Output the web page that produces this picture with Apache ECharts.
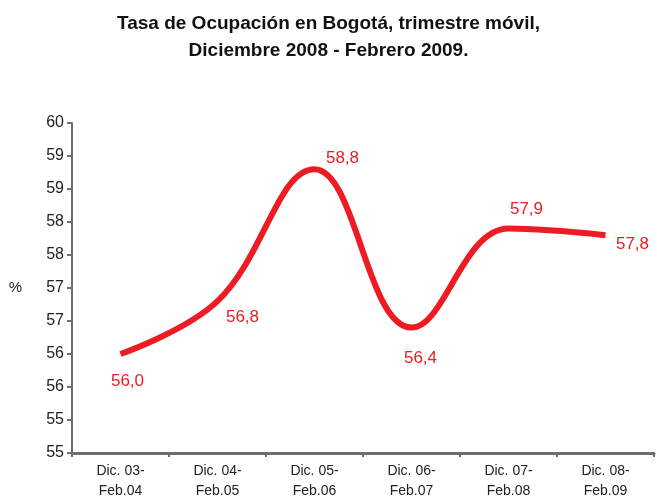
<!DOCTYPE html>
<html>
<head>
    <meta charset="utf-8">
    <title>Tasa de Ocupación en Bogotá</title>
    <script src="https://cdn.jsdelivr.net/npm/echarts@6/dist/echarts.min.js"></script>
    <style>
        html, body { margin: 0; padding: 0; background: #fff; }
        #chart { width: 657px; height: 501px; }
    </style>
</head>
<body>
<div id="chart"></div>
<script type="text/javascript">
    // categorias (trimestre movil)
    var categories = ['Dic. 03-\nFeb.04', 'Dic. 04-\nFeb.05', 'Dic. 05-\nFeb.06',
        'Dic. 06-\nFeb.07', 'Dic. 07-\nFeb.08', 'Dic. 08-\nFeb.09'];
    // tasa de ocupacion %
    var ocupacion = [56.0, 56.8, 58.8, 56.4, 57.9, 57.8];
    // desplazamiento de las etiquetas [x, y]
    var labelOffsets = [[7, 27], [25, 16], [28, -11], [9, 31], [18, -19], [27, 9]];

    var rojo = '#ed1c24';
    var gris = '#6d6e71';
    var fuente = '"Liberation Sans", Arial, sans-serif';

    var seriesData = ocupacion.map(function (v, i) {
        return {
            value: v,
            label: {offset: labelOffsets[i]}
        };
    });

    var myChart = echarts.init(document.getElementById('chart'));
    myChart.setOption({
        animation: false,
        title: {
            text: 'Tasa de Ocupación en Bogotá, trimestre móvil,\nDiciembre 2008 - Febrero 2009.',
            left: 'center',
            top: 5,
            textStyle: {
                fontFamily: fuente,
                fontSize: 19,
                fontWeight: 'bold',
                color: '#111',
                lineHeight: 27
            }
        },
        grid: {left: 72, right: 3, top: 123, bottom: 48},
        xAxis: {
            type: 'category',
            data: categories,
            boundaryGap: true,
            axisLine: {lineStyle: {color: gris, width: 3}},
            axisTick: {show: true, interval: 0, length: 4, lineStyle: {color: gris, width: 2}},
            axisLabel: {
                interval: 0,
                color: '#222',
                fontFamily: fuente,
                fontSize: 14,
                lineHeight: 20,
                margin: 8
            },
            splitLine: {show: false}
        },
        yAxis: {
            type: 'value',
            min: 54.5,
            max: 59.5,
            interval: 0.5,
            name: '%',
            nameLocation: 'middle',
            nameRotate: 0,
            nameGap: 50,
            nameTextStyle: {color: '#222', fontFamily: fuente, fontSize: 15},
            axisLine: {show: true, lineStyle: {color: gris, width: 2}},
            axisTick: {show: true, length: 5, lineStyle: {color: gris, width: 2}},
            axisLabel: {
                color: '#222',
                fontFamily: fuente,
                fontSize: 16,
                margin: 8,
                formatter: function (v) {
                    return Math.round(v);
                }
            },
            splitLine: {show: false}
        },
        series: [{
            type: 'line',
            data: seriesData,
            smooth: 0.4,
            symbol: 'circle',
            symbolSize: 0,
            showSymbol: true,
            lineStyle: {color: rojo, width: 6, cap: 'butt'},
            itemStyle: {color: rojo},
            label: {
                show: true,
                position: 'inside',
                color: rojo,
                fontFamily: fuente,
                fontSize: 17,
                formatter: function (p) {
                    return p.value.toFixed(1).replace('.', ',');
                }
            }
        }]
    });
</script>
</body>
</html>
